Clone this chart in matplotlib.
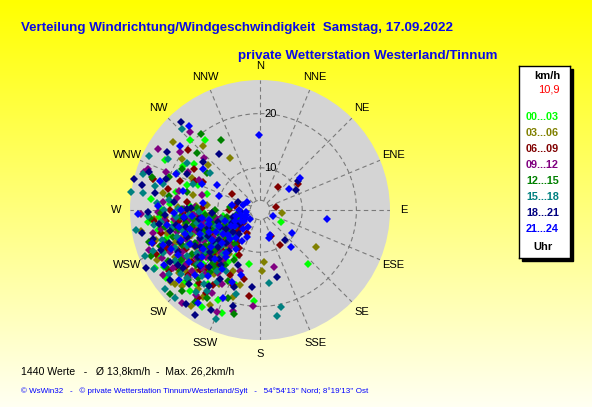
import numpy as np
import matplotlib
matplotlib.use("Agg")
import matplotlib.pyplot as plt
from matplotlib.patches import Rectangle

plt.rcParams['font.family'] = ['Liberation Sans', 'DejaVu Sans']

W, H = 592, 407

# Wind direction (deg) / speed (km/h), grouped by hour block
h00_03 = [(238,12.4),(251,15.0),(262,18.3),(229,10.6),(244,13.2),(256,16.7),(271,20.6),(235,9.1),(218,14.8),(247,11.5),
          (266,17.9),(226,12.1),(241,19.2),(253,13.9),(276,22.4),(233,16.2),(212,13.5),(249,9.8),(259,21.3),(222,17.4),
          (245,22.8),(230,8.2),(263,14.4),(240,15.9),(207,11.8),(255,19.7),(282,18.1),(220,20.2),(237,6.9),(268,12.8),
          (227,15.3),(250,17.2),(234,23.6),(215,18.9),(244,8.7),(259,10.9),(289,16.4),(226,21.7),(248,14.1),(273,15.2),
          (231,11.0),(198,16.8),(241,24.3),(264,23.0),(252,7.6),(219,9.7),(236,19.5),(300,18.6),(322,18.6),(138,15.5),
          (120,6.6),(184,19.0),(239,22.8),(211,23.0),(192,12.4),
          (242,10.2),(257,12.6),(231,14.0),(264,16.0),(249,18.6),(224,11.3),(270,14.5),(236,17.8),(253,20.4),(218,16.0),
          (245,16.6),(261,9.2),(228,19.3),(274,18.8),(239,13.1),(256,15.1),(221,22.0),(247,12.9),(233,10.4),(266,20.8),
          (292,14.5),(305,17.0),(315,20.5),(298,22.0),(287,12.5),(205,20.5),(215,15.8),(200,22.5),
          (232,12.9),(258,13.6),(247,21.2),(263,11.4),(227,16.7)]
h03_06 = [(243,13.1),(229,11.4),(258,16.6),(236,18.2),(250,10.3),(266,19.8),(221,15.6),(247,8.9),(232,21.1),(261,13.0),
          (215,12.2),(254,22.1),(240,16.0),(226,9.5),(272,17.3),(237,14.2),(209,17.8),(249,19.0),(230,7.3),(263,11.9),
          (244,23.4),(218,20.7),(256,14.8),(234,12.9),(280,20.3),(224,13.8),(251,17.5),(239,10.1),(204,14.5),(268,15.1),
          (229,23.1),(246,6.2),(260,24.6),(213,21.4),(242,15.4),(253,8.0),(275,12.0),(231,17.0),(286,22.7),(220,11.2),
          (330,13.3),(123,14.6),(98,6.3),(176,11.8),(178,13.5),(231,23.4),(303,19.4),(311,15.0),(195,16.5),(257,11.2),
          (248,13.6),(235,15.9),(262,17.8),(227,18.7),(252,12.1),(241,20.2),(270,16.2),(222,14.5),(257,9.6),(233,11.1),
          (245,17.8),(265,21.9),(216,16.7),(238,8.8),(250,15.7),(274,14.0),(230,19.9),(256,19.9),(243,11.9),(226,22.3),
          (295,16.0),(318,18.0),(283,14.8),(308,22.5),(208,22.0),(197,19.0),(216,24.0)]
h06_09 = [(246,12.0),(235,14.6),(257,10.1),(223,16.8),(252,18.4),(240,8.4),(265,13.7),(229,11.3),(248,20.7),(217,13.0),
          (261,16.1),(233,19.3),(243,9.7),(270,18.9),(226,7.8),(254,15.0),(212,18.6),(238,12.7),(264,21.9),(231,16.3),
          (249,6.4),(220,10.5),(258,12.6),(242,17.6),(276,15.8),(205,15.4),(236,22.4),(251,13.4),(228,20.0),(267,10.8),
          (244,11.1),(283,19.6),(215,22.1),(239,5.6),(256,8.9),(222,12.4),(233,7.1),(262,17.3),(248,14.2),(294,15.3),
          (56,10.7),(38,7.6),(79,5.2),(157,7.4),(150,9.6),(187,18.2),(230,14.9),(209,10.2),(253,22.9),(296,13.9),
          (250,16.1),(237,10.4),(259,14.1),(227,14.1),(245,13.5),(268,16.5),(233,18.0),(254,11.8),(220,19.7),(241,15.5),
          (263,19.6),(230,9.2),(247,23.1),(272,13.0),(236,20.9),(257,21.0),(225,17.9),(246,9.0),(266,14.6),(218,15.1),
          (280,6.9),(300,8.2),(270,8.0),(210,7.0),(225,8.6),(215,9.4),(205,11.3),(232,6.2),
          (290,18.0),(310,19.5),(286,22.8),(302,16.6),(200,17.0),(213,20.5),(193,15.2),
          (234,12.0),(255,17.0),(244,19.0),(228,13.0),(262,11.4),(239,9.8),(250,10.6)]
h09_12 = [(241,14.0),(254,11.2),(230,17.3),(262,15.5),(247,19.6),(222,12.9),(236,10.0),(269,21.0),(249,16.9),(214,16.2),
          (258,9.5),(233,13.6),(244,22.3),(227,20.3),(273,14.3),(240,8.1),(255,18.0),(219,10.8),(264,12.2),(235,15.8),
          (250,24.0),(210,19.9),(246,12.5),(229,8.8),(278,17.7),(238,18.9),(259,20.8),(224,14.9),(252,7.1),(268,24.2),
          (232,11.9),(217,21.8),(244,16.4),(285,13.2),(301,24.2),(306,20.4),(288,24.7),(290,24.3),(184,19.9),(166,13.0),
          (203,22.7),(236,21.5),(260,13.3),(225,17.4),(298,17.2),(248,9.1),(313,16.3),(198,14.1),
          (252,14.6),(239,12.1),(264,18.1),(229,15.5),(246,10.6),(258,22.4),(234,19.1),(271,16.2),(221,17.8),(249,13.9),
          (242,18.6),(261,10.6),(227,11.3),(255,16.1),(236,23.7),(275,20.1),(245,20.5),(231,14.4),(266,14.5),(216,13.9),
          (296,14.8),(283,17.5),(318,21.5),(292,21.0),(207,17.6),(195,21.5),(220,24.5),
          (233,16.9),(256,12.8),(243,14.8),(228,19.0),(264,20.0)]
h12_15 = [(244,12.8),(232,15.1),(257,17.7),(226,10.4),(250,14.0),(238,19.5),(265,12.4),(219,17.0),(247,9.3),(260,20.1),
          (234,12.0),(213,14.2),(252,16.4),(241,21.6),(228,13.3),(271,16.6),(236,7.6),(255,11.3),(222,19.2),(246,18.0),
          (266,22.5),(230,10.2),(208,12.6),(243,15.7),(258,8.5),(224,22.9),(237,17.1),(279,19.3),(250,13.1),(216,9.9),
          (233,20.8),(262,14.7),(331,17.0),(305,14.2),(215,23.0),(200,19.5),(239,22.5),(227,25.0),(254,23.6),(290,20.0),
          (245,6.5),(270,10.5),(218,15.8),(252,20.9),(284,16.0),
          (248,11.4),(235,13.8),(260,16.1),(229,17.8),(253,19.0),(241,11.1),(268,20.4),(222,15.3),(250,21.9),(237,14.4),
          (263,10.9),(226,20.8),(244,17.0),(272,13.9),(233,9.1),(257,14.9),(219,12.1),(247,24.0),(239,20.6),(231,16.7),
          (275,7.7),(260,6.6),
          (298,18.5),(312,17.8),(287,23.0),(322,20.0),(204,16.5),(211,21.2),(194,22.0),
          (234,11.5),(258,18.6),(243,13.2),(229,14.0),(265,17.0)]
h15_18 = [(247,13.8),(236,16.3),(259,18.7),(228,12.0),(253,21.2),(242,10.6),(266,15.3),(221,18.4),(249,23.3),(233,14.8),
          (270,19.9),(215,15.9),(256,12.1),(239,20.6),(278,24.1),(226,9.2),(262,22.0),(244,17.2),(218,21.5),(251,15.9),
          (230,25.0),(268,13.5),(287,24.7),(278,26.2),(299,21.6),(306,13.7),(224,24.9),(173,15.7),(171,22.0),(168,20.6),
          (213,20.1),(261,25.3),(241,24.6),(294,19.0),(235,11.4),(257,9.4),(211,17.6),(246,19.3),(283,22.0),(231,20.9),
          (265,17.7),(220,12.7),(248,8.2),(274,21.2),(296,25.1),
          (244,14.2),(233,12.7),(255,16.9),(229,17.4),(250,10.9),(263,20.7),(238,18.1),(271,17.4),(223,14.6),(246,21.8),
          (258,14.0),(235,22.7),(267,22.9),(227,20.6),(252,18.3),(241,13.0),(276,19.0),(217,19.3),(260,11.7),(248,25.1),
          (291,15.5),(303,18.2),(285,20.8),(316,23.0),(202,24.0),(209,15.0),(196,18.4)]
h18_21 = [(245,14.5),(234,11.6),(257,19.3),(227,17.3),(251,12.3),(240,21.4),(264,16.3),(220,13.9),(248,18.1),(231,8.6),
          (269,22.9),(214,19.1),(254,10.3),(238,15.0),(275,18.2),(224,21.1),(259,24.4),(243,12.9),(230,14.2),(266,11.1),
          (210,16.9),(248,22.0),(284,26.2),(243,25.9),(282,24.4),(324,15.0),(140,9.4),(166,15.0),(196,20.6),(186,16.5),
          (52,11.0),(61,9.9),(288,20.5),(218,24.3),(236,6.8),(255,7.4),(272,14.9),(226,10.9),(250,16.6),(202,13.1),
          (262,21.0),(233,19.9),(302,22.5),(241,9.3),(217,11.6),
          (241,16.0),(252,14.0),(229,12.5),(260,17.9),(236,20.5),(247,10.2),(267,19.7),(222,16.4),(255,22.7),(233,16.6),
          (271,15.6),(243,19.2),(226,14.9),(262,13.5),(250,20.1),(237,12.6),(279,21.8),(215,14.7),(257,16.2),(232,23.2),
          (265,5.8),(290,6.6),(245,8.0),(220,8.1),
          (296,17.2),(310,16.0),(289,23.8),(318,24.0),(206,22.8),(199,17.2),(212,25.0)]
h21_24 = [(243,11.3),(233,13.5),(255,15.6),(226,9.9),(249,17.9),(238,7.6),(262,13.1),(219,12.3),(246,20.1),(231,16.0),
          (268,18.0),(213,15.2),(252,9.0),(240,22.6),(225,19.1),(259,11.7),(235,5.7),(272,21.1),(248,14.2),(218,17.7),
          (256,6.8),(229,21.9),(265,16.2),(244,5.2),(241,8.4),(251,4.9),(359,16.0),(51,11.6),(54,8.8),(98,14.7),
          (126,9.4),(115,4.8),(158,7.2),(162,7.7),(140,11.2),(309,21.1),(277,12.8),(284,16.9),(294,14.0),(268,24.8),
          (253,23.1),(262,4.8),(222,6.9),(211,10.7),(237,10.3),(201,16.4),(289,10.2),(300,11.4),(254,11.9),(230,4.7),
          (247,12.5),(236,15.0),(258,17.5),(229,11.6),(252,16.7),(241,19.5),(265,14.8),(223,14.5),(249,10.4),(234,18.5),
          (270,16.8),(216,13.0),(255,13.4),(244,16.5),(227,17.0),(261,19.6),(238,12.6),(250,21.2),(232,9.7),(246,7.2),
          (270,6.0),(285,5.5),(300,5.0),(255,5.9),(215,6.1),(205,7.8),(280,7.4),(220,9.0),(210,8.8),(240,6.3),
          (293,19.0),(306,15.2),(286,21.5),(320,22.5),(203,19.8),(196,14.6),(214,22.8)]

gruppen = [h00_03, h03_06, h06_09, h09_12, h12_15, h15_18, h18_21, h21_24]
stunden = ["00...03", "03...06", "06...09", "09...12", "12...15", "15...18", "18...21", "21...24"]
farben = ["#00ff00", "#808000", "#800000", "#800080", "#008000", "#008080", "#000080", "#0000ff"]

richtungen = ["N", "NNE", "NE", "ENE", "E", "ESE", "SE", "SSE",
              "S", "SSW", "SW", "WSW", "W", "WNW", "NW", "NNW"]
ringe = [4, 10, 20]
ring_labels = ["", "10", "20"]
v_min, v_max = 2.2, 26.2

titel1 = "Verteilung Windrichtung/Windgeschwindigkeit  Samstag, 17.09.2022"
titel2 = "private Wetterstation Westerland/Tinnum"
info = "1440 Werte   -   \u00d8 13,8km/h  -  Max. 26,2km/h"
fuss = "\u00a9 WsWin32   -   \u00a9 private Wetterstation Tinnum/Westerland/Sylt   -   54\u00b054'13'' Nord; 8\u00b019'13'' Ost"
mittel_wert = "10,9"


def fx(x):
    return x / W


def fy(y):
    return 1 - y / H


fig = plt.figure(figsize=(W / 100, H / 100), dpi=100)

# gelber Verlauf im Hintergrund
bg = fig.add_axes([0, 0, 1, 1], zorder=-2)
verlauf = np.linspace(0, 1, 256)
bild = np.ones((256, 1, 3))
bild[:, 0, 2] = verlauf * 0.95
bg.imshow(bild, aspect="auto", extent=[0, 1, 0, 1])
bg.axis("off")

# Polardiagramm: Mittelpunkt (260,210), Radius 130 px
cx, cy, rad = 260, 210, 130
ax = fig.add_axes([fx(cx - rad), fy(cy + rad), 2 * rad / W, 2 * rad / H], projection="polar")
ax.set_theta_zero_location("N")
ax.set_theta_direction(-1)
ax.set_rlim(v_min, v_max)
ax.set_facecolor("#d4d4d4")
ax.spines["polar"].set_visible(False)
ax.set_xticks([])
ax.set_yticks([])
ax.grid(False)

kreis = np.linspace(0, 2 * np.pi, 361)
for r in ringe:
    ax.plot(kreis, np.full_like(kreis, r), color="#7a7a7a", lw=0.8, ls=(0, (4, 3)), zorder=1)
for i in range(16):
    a = np.deg2rad(i * 22.5)
    ax.plot([a, a], [ringe[0], v_max], color="#7a7a7a", lw=0.8, ls=(0, (4, 3)), zorder=1)
for r, lab in zip(ringe, ring_labels):
    if lab:
        ax.annotate(lab, xy=(0, r), xytext=(3, 0), textcoords="offset points",
                    ha="left", va="center", fontsize=8, color="black")

r_lab = v_max + 14 / 5.42
for i, name in enumerate(richtungen):
    a = np.deg2rad(i * 22.5)
    ax.text(a, r_lab, name, ha="center", va="center", fontsize=8, clip_on=False)

for daten, farbe in zip(gruppen, farben):
    d = np.deg2rad([p[0] for p in daten])
    v = [p[1] for p in daten]
    ax.plot(d, v, "D", color=farbe, ms=3.9, mew=0, zorder=3, clip_on=False)

# Titel
fig.text(fx(21), fy(28), titel1, color="#0a0ae6", fontsize=9.6, fontweight="bold", va="center")
fig.text(fx(238), fy(56), titel2, color="#0a0ae6", fontsize=9.6, fontweight="bold", va="center")

# Legende rechts
lx0, ly0, lx1, ly1 = 519, 66, 570, 258
schatten = Rectangle((fx(lx0 + 3), fy(ly1 + 3)), (lx1 - lx0) / W, (ly1 - ly0) / H,
                     transform=fig.transFigure, color="black", zorder=-1)
fig.patches.append(schatten)
leg = fig.add_axes([fx(lx0), fy(ly1), (lx1 - lx0) / W, (ly1 - ly0) / H])
leg.set_facecolor("white")
leg.set_xticks([])
leg.set_yticks([])
for s in leg.spines.values():
    s.set_linewidth(1)
    s.set_color("black")

fig.text(fx(547), fy(76), "km/h", fontsize=8, fontweight="bold", ha="center", va="center")
fig.text(fx(560), fy(90), mittel_wert, fontsize=8, color="red", ha="right", va="center")
for i, (lab, farbe) in enumerate(zip(stunden, farben)):
    fig.text(fx(526), fy(117 + i * 16), lab, fontsize=7.8, fontweight="bold", color=farbe, va="center")
fig.text(fx(543), fy(247), "Uhr", fontsize=8, fontweight="bold", ha="center", va="center")

# Fusszeilen
fig.text(fx(21), fy(372), info, fontsize=7.6, va="center")
fig.text(fx(21), fy(391), fuss, fontsize=5.8, color="#0000ff", va="center")

fig.savefig("out.png", dpi=100)
